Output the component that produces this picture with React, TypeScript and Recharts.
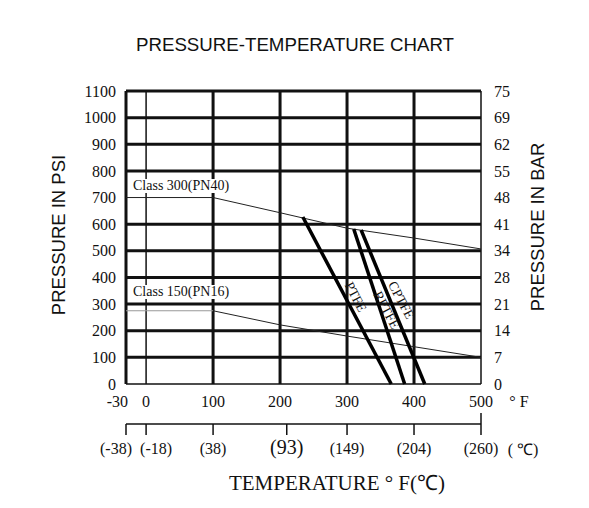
import React from "react";
import { ComposedChart, Line, XAxis, YAxis, ReferenceLine, ReferenceDot } from "recharts";

const fTicks = [-30, 0, 100, 200, 300, 400, 500];
const psiTicks = [0, 100, 200, 300, 400, 500, 600, 700, 800, 900, 1000, 1100];
const barLabels = ["0", "7", "14", "21", "28", "34", "41", "48", "55", "62", "69", "75"];
const cTicks = [-30, 0, 100, 210, 300, 400, 500];
const cLabels = ["(-38)", "(-18)", "(38)", "(93)", "(149)", "(204)", "(260)"];

const thickPsi = [100, 200, 300, 400, 500, 600, 800, 900, 1000, 1100];
const thinPsi = [0];
const thickF = [-30, 100, 200, 300, 400];
const thinF = [0, 500];

const class300 = [
  { t: -30, p: 700 },
  { t: 100, p: 700 },
  { t: 200, p: 643 },
  { t: 300, p: 585 },
  { t: 400, p: 548 },
  { t: 500, p: 507 },
];
const class150Flat = [
  { t: -30, p: 275 },
  { t: 100, p: 275 },
];
const class150 = [
  { t: 100, p: 275 },
  { t: 200, p: 222 },
  { t: 300, p: 180 },
  { t: 400, p: 140 },
  { t: 500, p: 100 },
];
const ptfe = [
  { t: 234, p: 627 },
  { t: 366, p: 0 },
];
const rptfe = [
  { t: 310, p: 582 },
  { t: 386, p: 0 },
];
const cptfe = [
  { t: 321, p: 578 },
  { t: 416, p: 0 },
];

const seatLabels = [
  { name: "PTFE", t: 313, p: 327 },
  { name: "RPTFE", t: 359, p: 278 },
  { name: "CPTFE", t: 381, p: 315 },
];

const serif = "'Liberation Serif', 'Times New Roman', serif";
const sans = "'Liberation Sans', Arial, sans-serif";

function FTick(props: any) {
  const { x, y, index, payload } = props;
  // the leftmost label sits to the left of its tick, as in the print
  const first = index === 0;
  return (
    <text
      x={first ? x + 2 : x}
      y={y}
      dy="0.72em"
      textAnchor={first ? "end" : "middle"}
      fill="#111"
      fontFamily={serif}
      fontSize={16}
    >
      {payload.value}
    </text>
  );
}

function CTick(props: any) {
  const { x, y, index } = props;
  const big = cLabels[index] === "(93)";
  const anchor = index === 0 ? "end" : index === 1 ? "start" : "middle";
  const tx = index === 0 ? x + 6 : index === 1 ? x - 6 : x;
  const last = index === cLabels.length - 1;
  return (
    <g>
      {last && <line x1={x} x2={x} y1={y - 29} y2={y - 18} stroke="#111" strokeWidth={1.5} />}
      <text
        x={tx}
        y={y}
        dy={big ? "0.62em" : "0.72em"}
        textAnchor={anchor}
        fill="#111"
        fontFamily={serif}
        fontSize={big ? 20 : 16}
      >
        {cLabels[index]}
      </text>
    </g>
  );
}

function SeatLabel(name: string) {
  return (props: any) => {
    const vb = props.viewBox || {};
    const cx = vb.x + (vb.width || 0) / 2;
    const cy = vb.y + (vb.height || 0) / 2;
    return (
      <text
        x={cx}
        y={cy}
        transform={`rotate(62 ${cx} ${cy})`}
        textAnchor="middle"
        dominantBaseline="central"
        fontFamily={serif}
        fontSize={13.5}
        fill="#111"
      >
        {name}
      </text>
    );
  };
}

const abs = (x: number, y: number, extra: React.CSSProperties = {}): React.CSSProperties => ({
  position: "absolute",
  left: x,
  top: y,
  transform: "translate(-50%, -50%)",
  whiteSpace: "nowrap",
  color: "#111",
  lineHeight: 1,
  ...extra,
});

const classLabel = (x: number, y: number): React.CSSProperties => ({
  position: "absolute",
  left: x,
  top: y,
  fontFamily: serif,
  fontSize: 14,
  lineHeight: "14px",
  color: "#111",
  background: "#fff",
  padding: "0 1px",
  whiteSpace: "nowrap",
});

export default function App() {
  return (
    <div style={{ position: "absolute", left: 0, top: 0, width: 589, height: 508, background: "#fff" }}>
      <ComposedChart width={589} height={508} margin={{ top: 91, right: 0, bottom: 0, left: 0 }}>
        <XAxis
          xAxisId="x1"
          type="number"
          dataKey="t"
          domain={[-30, 500]}
          ticks={fTicks}
          axisLine={false}
          tickLine={false}
          tickSize={6}
          tickMargin={5}
          height={40}
          interval={0}
          tick={<FTick />}
        />
        <XAxis
          xAxisId="x2"
          type="number"
          dataKey="t"
          domain={[-30, 500]}
          ticks={cTicks}
          axisLine={{ stroke: "#111", strokeWidth: 1.5 }}
          tickLine={{ stroke: "#111", strokeWidth: 1.5 }}
          tickSize={11}
          tickMargin={7}
          height={84}
          interval={0}
          tick={<CTick />}
        />
        <YAxis
          yAxisId="y1"
          type="number"
          domain={[0, 1100]}
          ticks={psiTicks}
          width={126}
          axisLine={false}
          tickLine={false}
          tickMargin={4}
          interval={0}
          tick={{ fill: "#111", fontSize: 16, fontFamily: serif }}
        />
        <YAxis
          yAxisId="y2"
          orientation="right"
          type="number"
          domain={[0, 1100]}
          ticks={psiTicks}
          width={108}
          axisLine={false}
          tickLine={false}
          tickMargin={7}
          interval={0}
          tickFormatter={(v: number) => barLabels[psiTicks.indexOf(v)]}
          tick={{ fill: "#111", fontSize: 16, fontFamily: serif }}
        />

        {thinPsi.map((v) => (
          <ReferenceLine key={"tp" + v} xAxisId="x1" yAxisId="y1" y={v} stroke="#111" strokeWidth={1.5} />
        ))}
        {thickPsi.map((v) => (
          <ReferenceLine key={"hp" + v} xAxisId="x1" yAxisId="y1" y={v} stroke="#111" strokeWidth={3} />
        ))}
        {thinF.map((v) => (
          <ReferenceLine key={"tf" + v} xAxisId="x1" yAxisId="y1" x={v} stroke="#111" strokeWidth={1.5} />
        ))}
        {thickF.map((v) => (
          <ReferenceLine key={"hf" + v} xAxisId="x1" yAxisId="y1" x={v} stroke="#111" strokeWidth={3} />
        ))}

        {/* invisible copy so the °C axis and the bar axis get a domain */}
        <Line xAxisId="x2" yAxisId="y2" data={class300} dataKey="p" stroke="none" dot={false} activeDot={false} legendType="none" isAnimationActive={false} />

        <Line xAxisId="x1" yAxisId="y1" data={class300} dataKey="p" type="linear" stroke="#222" strokeWidth={1} dot={false} isAnimationActive={false} />
        <Line xAxisId="x1" yAxisId="y1" data={class150Flat} dataKey="p" type="linear" stroke="#999" strokeWidth={1.2} dot={false} isAnimationActive={false} />
        <Line xAxisId="x1" yAxisId="y1" data={class150} dataKey="p" type="linear" stroke="#222" strokeWidth={1} dot={false} isAnimationActive={false} />
        <Line xAxisId="x1" yAxisId="y1" data={ptfe} dataKey="p" type="linear" stroke="#000" strokeWidth={3.5} dot={false} isAnimationActive={false} />
        <Line xAxisId="x1" yAxisId="y1" data={rptfe} dataKey="p" type="linear" stroke="#000" strokeWidth={3.5} dot={false} isAnimationActive={false} />
        <Line xAxisId="x1" yAxisId="y1" data={cptfe} dataKey="p" type="linear" stroke="#000" strokeWidth={3.5} dot={false} isAnimationActive={false} />

        {seatLabels.map((s) => (
          <ReferenceDot
            key={s.name}
            xAxisId="x1"
            yAxisId="y1"
            x={s.t}
            y={s.p}
            r={0}
            fill="none"
            stroke="none"
            label={{ content: SeatLabel(s.name) }}
          />
        ))}
      </ComposedChart>

      <div style={abs(295, 45, { fontFamily: sans, fontSize: 18.7 })}>PRESSURE-TEMPERATURE CHART</div>
      <div style={abs(59, 235, { fontFamily: sans, fontSize: 18.5, transform: "translate(-50%, -50%) rotate(-90deg)" })}>
        PRESSURE IN PSI
      </div>
      <div style={abs(538, 227, { fontFamily: sans, fontSize: 18.5, transform: "translate(-50%, -50%) rotate(-90deg)" })}>
        PRESSURE IN BAR
      </div>
      <div style={classLabel(132, 179)}>Class 300(PN40)</div>
      <div style={classLabel(132, 285)}>Class 150(PN16)</div>
      <div style={abs(519, 402, { fontFamily: serif, fontSize: 16 })}>° F</div>
      <div style={abs(523, 450, { fontFamily: serif, fontSize: 16 })}>( ℃)</div>
      <div style={abs(337, 483, { fontFamily: serif, fontSize: 21 })}>TEMPERATURE ° F(℃)</div>
    </div>
  );
}
